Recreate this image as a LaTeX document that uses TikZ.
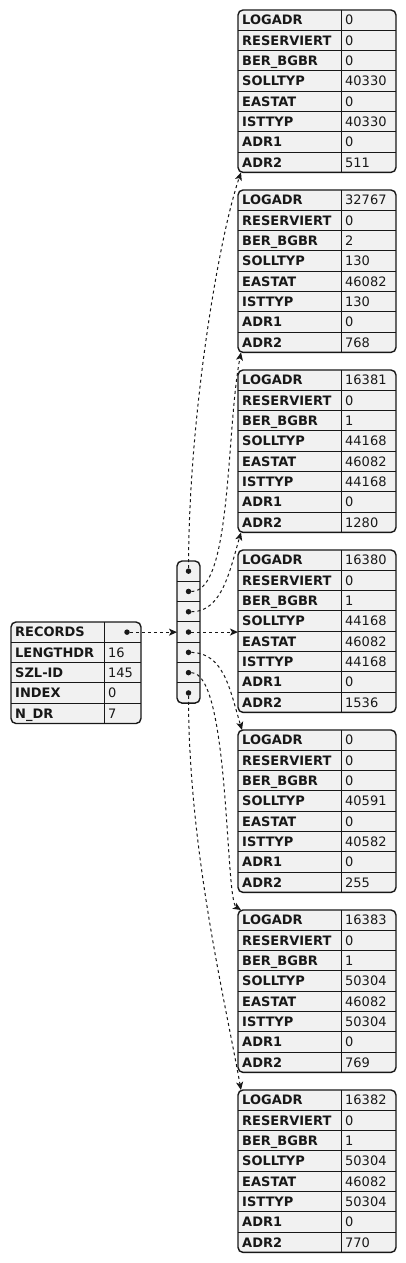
\documentclass[tikz,border=0pt]{standalone}
\usepackage{fontspec}
\setmainfont{DejaVu Sans}
\usepackage{tikz}
\usetikzlibrary{arrows.meta,positioning}
\definecolor{cellbg}{HTML}{F1F1F1}
\definecolor{edgeink}{HTML}{181818}

% one record table: #1 = index, #2..#9 = values
\newcommand{\recordtab}[9]{%
  \node[tab, minimum width=158, minimum height=162.4] (r#1) at (317,{91.2+180*(#1-1)}) {};
  \foreach \k in {1,...,7}
    \draw[cellline] ([yshift={-20.3*\k}]r#1.north west) -- ([yshift={-20.3*\k}]r#1.north east);
  \draw[cellline] ([xshift=103]r#1.north west) -- ([xshift=103]r#1.south west);
  \foreach \kk/\vv [count=\i] in {LOGADR/#2, RESERVIERT/#3, BER\_BGBR/#4, SOLLTYP/#5,
      EASTAT/#6, ISTTYP/#7, ADR1/#8, ADR2/#9} {
    \node[keyt] (r#1k\i) at ([shift={(4,{20.3*\i-10.15})}]r#1.north west) {\kk};
    \node[valt] (r#1v\i) at ([shift={(107,{20.3*\i-10.15})}]r#1.north west) {\vv};
  }
}

\begin{document}
\begin{tikzpicture}[
  x=1pt, y=-1pt,
  tab/.style={draw=edgeink, fill=cellbg, line width=1.4pt, rounded corners=5pt,
    outer sep=0pt, inner sep=0pt},
  cellline/.style={draw=edgeink, line width=1pt},
  keyt/.style={anchor=west, inner sep=0pt, text height=9.5pt, text depth=0pt,
    font=\fontsize{13}{15}\selectfont\bfseries, text=edgeink},
  valt/.style={anchor=west, inner sep=0pt, text height=9.5pt, text depth=0pt,
    font=\fontsize{13}{15}\selectfont, text=edgeink},
  ptr/.style={circle, fill=edgeink, inner sep=0pt, minimum size=5.5pt},
  link/.style={draw=edgeink, line width=1pt, dash pattern=on 3pt off 3pt,
    -{Stealth[length=8pt, width=7pt, inset=2pt]}}
]
  \useasboundingbox (0,0) rectangle (406,1263);

  % ---------------- header table ----------------
  \node[tab, minimum width=130, minimum height=101.5] (hdr) at (76,672.75) {};
  \foreach \k in {1,...,4}
    \draw[cellline] ([yshift={-20.3*\k}]hdr.north west) -- ([yshift={-20.3*\k}]hdr.north east);
  \draw[cellline] ([xshift=93]hdr.north west) -- ([xshift=93]hdr.south west);
  \node[keyt] (hk1) at ([shift={(4,10.15)}]hdr.north west) {RECORDS};
  \node[keyt] (hk2) at ([shift={(4,30.45)}]hdr.north west) {LENGTHDR};
  \node[keyt] (hk3) at ([shift={(4,50.75)}]hdr.north west) {SZL-ID};
  \node[keyt] (hk4) at ([shift={(4,71.05)}]hdr.north west) {INDEX};
  \node[keyt] (hk5) at ([shift={(4,91.35)}]hdr.north west) {N\_DR};
  \node[ptr] (recdot) at ([shift={(116,10.15)}]hdr.north west) {};
  \node[valt] (hv2) at ([shift={(97,30.45)}]hdr.north west) {16};
  \node[valt] (hv3) at ([shift={(97,50.75)}]hdr.north west) {145};
  \node[valt] (hv4) at ([shift={(97,71.05)}]hdr.north west) {0};
  \node[valt] (hv5) at ([shift={(97,91.35)}]hdr.north west) {7};

  % ---------------- pointer array ----------------
  \node[tab, minimum width=23, minimum height=142.1] (arr) at (188.5,632.05) {};
  \foreach \k in {1,...,6}
    \draw[cellline] ([yshift={-20.3*\k}]arr.north west) -- ([yshift={-20.3*\k}]arr.north east);
  \foreach \k in {1,...,7}
    \node[ptr] (d\k) at ([shift={(0,{20.3*\k-10.15})}]arr.north) {};

  % ---------------- records ----------------
  \recordtab{1}{0}{0}{0}{40330}{0}{40330}{0}{511}
  \recordtab{2}{32767}{0}{2}{130}{46082}{130}{0}{768}
  \recordtab{3}{16381}{0}{1}{44168}{46082}{44168}{0}{1280}
  \recordtab{4}{16380}{0}{1}{44168}{46082}{44168}{0}{1536}
  \recordtab{5}{0}{0}{0}{40591}{0}{40582}{0}{255}
  \recordtab{6}{16383}{0}{1}{50304}{46082}{50304}{0}{769}
  \recordtab{7}{16382}{0}{1}{50304}{46082}{50304}{0}{770}

  % ---------------- links ----------------
  \draw[link] (recdot) -- (recdot -| arr.west);
  \draw[link] (d1) .. controls (188.5,420) and (218,240) .. ([xshift=3pt]r1.south west);
  \draw[link] (d2) .. controls (232,592) and (226,430) .. ([xshift=3pt]r2.south west);
  \draw[link] (d3) .. controls (222,612) and (230,570) .. ([xshift=3pt]r3.south west);
  \draw[link] (d4) -- (d4 -| r4.west);
  \draw[link] (d5) .. controls (224,653) and (230,690) .. ([xshift=4pt]r5.north west);
  \draw[link] (d6) .. controls (230,673) and (225,900) .. ([xshift=3pt]r6.north west);
  \draw[link] (d7) .. controls (188.5,850) and (225,1000) .. ([xshift=3pt]r7.north west);
\end{tikzpicture}
\end{document}
